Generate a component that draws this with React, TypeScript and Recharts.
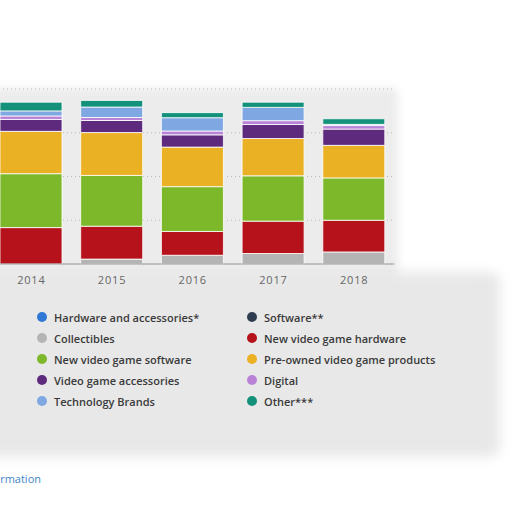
import React from 'react';
import { BarChart, Bar, XAxis, YAxis, CartesianGrid } from 'recharts';

// Values in million U.S. dollars
const years = ['2014', '2015', '2016', '2017', '2018'];
const hardwareAccessories = [0, 0, 0, 0, 0];
const software = [0, 0, 0, 0, 0];
const collectibles = [0, 280, 500, 600, 690];
const newHardware = [2080, 1880, 1360, 1850, 1810];
const newSoftware = [3080, 2900, 2560, 2590, 2420];
const preOwned = [2420, 2450, 2260, 2130, 1860];
const accessories = [680, 690, 700, 800, 930];
const digital = [200, 170, 220, 220, 200];
const techBrands = [290, 600, 760, 760, 70];
const other = [500, 380, 290, 300, 320];
const yTicks = [0, 2500, 5000, 7500, 10000];

const series = [
  { key: 'hwAcc', name: 'Hardware and accessories*', color: '#2f78d6', values: hardwareAccessories },
  { key: 'sw', name: 'Software**', color: '#2e3d4f', values: software },
  { key: 'collect', name: 'Collectibles', color: '#b4b4b4', values: collectibles },
  { key: 'newHw', name: 'New video game hardware', color: '#b5121b', values: newHardware },
  { key: 'newSw', name: 'New video game software', color: '#7cb829', values: newSoftware },
  { key: 'preOwned', name: 'Pre-owned video game products', color: '#ebb125', values: preOwned },
  { key: 'acc', name: 'Video game accessories', color: '#5e2a7e', values: accessories },
  { key: 'digital', name: 'Digital', color: '#b982d6', values: digital },
  { key: 'tech', name: 'Technology Brands', color: '#7fa8e2', values: techBrands },
  { key: 'other', name: 'Other***', color: '#13917a', values: other },
];

const chartData = years.map((year, i) => {
  const row: Record<string, string | number> = { year };
  series.forEach((s) => {
    row[s.key] = s.values[i];
  });
  return row;
});

const font = '"Open Sans", "DejaVu Sans", sans-serif';

export default function App() {
  return (
    <div
      style={{
        position: 'fixed',
        top: 0,
        left: 0,
        width: 512,
        height: 512,
        overflow: 'hidden',
        background: '#fff',
        fontFamily: font,
      }}
    >
      {/* soft grey backdrop */}
      <div style={{ position: 'absolute', left: -20, top: 88, width: 418, height: 200, background: '#ececec', filter: 'blur(4px)', borderRadius: 6 }} />
      <div style={{ position: 'absolute', left: -20, top: 272, width: 520, height: 185, background: '#e8e8e8', filter: 'blur(6px)', borderRadius: 10 }} />

      <div style={{ position: 'absolute', left: -9, top: 0 }}>
        <BarChart
          width={420}
          height={294}
          data={chartData}
          margin={{ top: 89, right: 16.5, bottom: 0, left: 0 }}
        >
          <CartesianGrid vertical={false} stroke="#b8b8b8" strokeDasharray="1 3" />
          <XAxis
            dataKey="year"
            height={30}
            tickLine={false}
            axisLine={{ stroke: '#9a9a9a' }}
            tickMargin={6}
            tick={{ fill: '#666', fontSize: 11, fontFamily: font, letterSpacing: 0.8 }}
          />
          <YAxis hide domain={[0, 10000]} ticks={yTicks} />
          {series.map((s) => (
            <Bar
              key={s.key}
              dataKey={s.key}
              name={s.name}
              stackId="a"
              fill={s.color}
              stroke="#ffffff"
              strokeWidth={0.8}
              barSize={62}
              isAnimationActive={false}
            />
          ))}
        </BarChart>
      </div>

      {/* legend, two columns */}
      {series.map((s, i) => {
        const col = i % 2;
        const row = Math.floor(i / 2);
        return (
          <div
            key={s.key}
            style={{
              position: 'absolute',
              left: col === 0 ? 37 : 247,
              top: 309 + row * 21,
              height: 16,
              display: 'flex',
              alignItems: 'center',
              whiteSpace: 'nowrap',
            }}
          >
            <span
              style={{
                display: 'inline-block',
                width: 10,
                height: 10,
                borderRadius: '50%',
                background: s.color,
                marginRight: 7,
              }}
            />
            <span style={{ fontSize: 11, fontWeight: 600, color: '#3a3a3a' }}>{s.name}</span>
          </div>
        );
      })}

      <div
        style={{
          position: 'absolute',
          right: 471,
          top: 471,
          fontSize: 11,
          color: '#3d86c6',
          whiteSpace: 'nowrap',
        }}
      >
        Additional Information
      </div>
    </div>
  );
}
